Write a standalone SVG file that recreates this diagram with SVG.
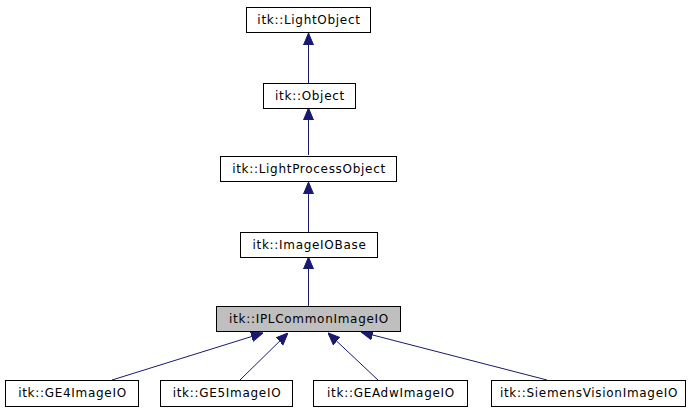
<svg xmlns="http://www.w3.org/2000/svg" width="699" height="411" viewBox="0 0 699 411">
<defs>
<style>
.box{fill:#fff;stroke:#000;stroke-width:1}
.cur{fill:#bfbfbf;stroke:#000;stroke-width:1}
.lbl{font-family:"DejaVu Sans",sans-serif;font-size:12px;letter-spacing:0.7px;fill:#000;text-anchor:middle}
.edge{stroke:#191970;stroke-width:1;fill:none}
</style>
<marker id="ah" markerWidth="12" markerHeight="12" viewBox="0 0 12 10" refX="12" refY="5" orient="auto" markerUnits="userSpaceOnUse">
<path d="M0,0 L12,5 L0,10 Z" fill="#191970" stroke="#191970"/>
</marker>
</defs>
<rect width="699" height="411" fill="#fff"/>
<g id="edges">
<line class="edge" x1="308.5" y1="83" x2="308.5" y2="33" marker-end="url(#ah)"/>
<line class="edge" x1="308.5" y1="155" x2="308.5" y2="108" marker-end="url(#ah)"/>
<line class="edge" x1="308.5" y1="232" x2="308.5" y2="182" marker-end="url(#ah)"/>
<line class="edge" x1="308.5" y1="306" x2="308.5" y2="257" marker-end="url(#ah)"/>
<line class="edge" x1="112" y1="380" x2="263" y2="333" marker-end="url(#ah)"/>
<line class="edge" x1="240" y1="380" x2="288" y2="333" marker-end="url(#ah)"/>
<line class="edge" x1="378" y1="380" x2="328" y2="333" marker-end="url(#ah)"/>
<line class="edge" x1="547" y1="380" x2="361" y2="332" marker-end="url(#ah)"/>
</g>
<g id="n1"><rect class="box" x="246.5" y="7.5" width="124" height="25"/><text class="lbl" x="309" y="24">itk::LightObject</text></g>
<g id="n2"><rect class="box" x="263.5" y="83.5" width="92" height="25"/><text class="lbl" x="310" y="100">itk::Object</text></g>
<g id="n3"><rect class="box" x="220.5" y="156.5" width="176" height="25"/><text class="lbl" x="309" y="173">itk::LightProcessObject</text></g>
<g id="n4"><rect class="box" x="240.5" y="232.5" width="137" height="25"/><text class="lbl" x="309.5" y="249">itk::ImageIOBase</text></g>
<g id="n5"><rect class="cur" x="216.5" y="306.5" width="184" height="25"/><text class="lbl" x="309" y="323">itk::IPLCommonImageIO</text></g>
<g id="n6"><rect class="box" x="5.5" y="380.5" width="133" height="26"/><text class="lbl" x="72.5" y="397">itk::GE4ImageIO</text></g>
<g id="n7"><rect class="box" x="160.5" y="380.5" width="132" height="26"/><text class="lbl" x="227" y="397">itk::GE5ImageIO</text></g>
<g id="n8"><rect class="box" x="313.5" y="380.5" width="154" height="26"/><text class="lbl" x="391" y="397">itk::GEAdwImageIO</text></g>
<g id="n9"><rect class="box" x="491.5" y="380.5" width="194" height="26"/><text class="lbl" x="589" y="397">itk::SiemensVisionImageIO</text></g>
</svg>
